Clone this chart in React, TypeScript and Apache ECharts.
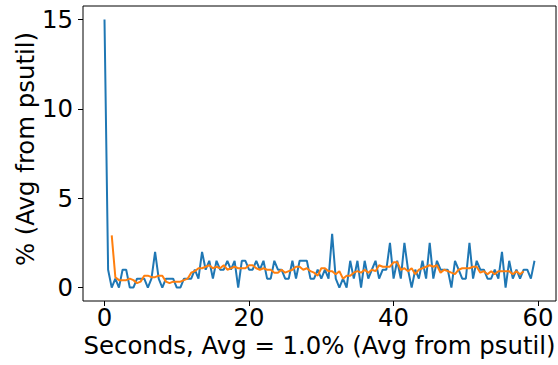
import React, { useEffect, useRef } from "react";
import * as echarts from "echarts";

// Seconds between two psutil samples
const SAMPLE_STEP = 0.5;

// CPU load per sample, in percent
const cpuPercent = [
  15, 1, 0, 0.5, 0, 1, 1, 0, 0, 0.5,
  0.5, 0.5, 0, 0.5, 2, 0.5, 0, 0.5, 0.5, 0.5,
  0, 0, 0.5, 0.5, 0.5, 1, 0.5, 2, 1, 1.5,
  0.5, 1.5, 1, 1, 1.5, 1, 1.5, 0, 1.5, 1.5,
  1, 1, 1.5, 1, 1.5, 0.5, 0.5, 1.5, 1, 1,
  0.5, 0.5, 1.5, 0.5, 1.5, 1.5, 1.5, 0.5, 0.5, 1,
  0.5, 1, 0.5, 3, 0.5, 0, 0.5, 0, 1.5, 0.5,
  1.5, 0, 1.5, 0.5, 1, 1.5, 0.5, 1, 1, 2.5,
  0.5, 1.5, 0.5, 2.5, 1, 0, 1, 0.5, 1.5, 0.5,
  2.5, 0.5, 1.5, 1, 1, 1, 0, 1.5, 1, 0.5,
  0.5, 2.5, 0.5, 1.5, 1, 1, 0.5, 0.5, 1, 0.5,
  2, 0, 1.5, 0.5, 1, 0.5, 1, 1, 0.5, 1.5,
];

// Rolling average of the load, first point at AVG_START seconds
const AVG_START = 1.0;
const rollingAvg = [
  2.917, 0.583, 0.417, 0.417, 0.417, 0.5, 0.417, 0.25, 0.333, 0.667,
  0.667, 0.583, 0.583, 0.667, 0.667, 0.333, 0.25, 0.333, 0.333, 0.333,
  0.417, 0.5, 0.833, 0.917, 1.083, 1.083, 1.167, 1.25, 1.083, 1.167,
  1.083, 1.25, 1.0, 1.083, 1.167, 1.083, 1.083, 1.083, 1.25, 1.25,
  1.083, 1.0, 1.083, 1.0, 1.0, 0.833, 0.833, 1.0, 0.833, 0.917,
  1.0, 1.167, 1.167, 1.0, 1.083, 0.917, 0.833, 0.667, 1.083, 1.083,
  0.917, 0.917, 0.75, 0.917, 0.5, 0.667, 0.667, 0.833, 0.917, 0.833,
  1.0, 0.833, 1.0, 0.917, 1.25, 1.167, 1.167, 1.167, 1.417, 1.417,
  1.0, 1.083, 0.917, 1.083, 0.75, 1.0, 1.083, 1.167, 1.25, 1.167,
  1.25, 0.833, 1.0, 0.917, 0.833, 0.75, 1.0, 1.083, 1.083, 1.083,
  1.167, 1.167, 0.833, 0.917, 0.75, 0.917, 0.75, 0.917, 0.917, 0.917,
  0.917, 0.75, 0.917, 0.75, 0.917,
];

const xTicks = [0, 20, 40, 60];
const yTicks = [0, 5, 10, 15];
const X_LABEL = "Seconds, Avg = 1.0% (Avg from psutil)";
const Y_LABEL = "% (Avg from psutil)";

const FONT = "DejaVu Sans";
const FONT_SIZE = 24.4;
const BLUE = "#1f77b4";
const ORANGE = "#ff7f0e";

export default function App() {
  const ref = useRef<HTMLDivElement>(null);

  useEffect(() => {
    if (!ref.current) return;
    const chart = echarts.init(ref.current, undefined, { renderer: "svg" });

    const tickStyle = { show: true, inside: false, length: 5, lineStyle: { color: "#000", width: 1 } };
    const labelStyle = { fontSize: FONT_SIZE, fontFamily: FONT, color: "#000", lineHeight: 20 };

    chart.setOption({
      animation: false,
      backgroundColor: "#fff",
      grid: {
        left: 83,
        top: 6,
        width: 473,
        height: 295,
        show: true,
        borderColor: "#000",
        borderWidth: 1,
        backgroundColor: "transparent",
      },
      xAxis: {
        type: "value",
        min: -2.975,
        max: 62.475,
        axisLine: { show: false, onZero: false },
        splitLine: { show: false },
        axisTick: { ...tickStyle, customValues: xTicks },
        axisLabel: { ...labelStyle, customValues: xTicks, margin: 6 },
      },
      yAxis: {
        type: "value",
        min: -0.75,
        max: 15.75,
        axisLine: { show: false, onZero: false },
        splitLine: { show: false },
        axisTick: { ...tickStyle, customValues: yTicks },
        axisLabel: { ...labelStyle, customValues: yTicks, margin: 10 },
      },
      graphic: [
        {
          type: "text",
          x: 319.5,
          y: 345,
          style: { text: X_LABEL, ...labelStyle, fill: "#000", align: "center", verticalAlign: "middle" },
        },
        {
          type: "text",
          x: 25,
          y: 149,
          rotation: Math.PI / 2,
          style: { text: Y_LABEL, ...labelStyle, fill: "#000", align: "center", verticalAlign: "middle" },
        },
      ],
      series: [
        {
          type: "line",
          data: cpuPercent.map((v, i) => [i * SAMPLE_STEP, v]),
          showSymbol: false,
          symbol: "none",
          lineStyle: { color: BLUE, width: 2 },
          itemStyle: { color: BLUE },
        },
        {
          type: "line",
          data: rollingAvg.map((v, i) => [AVG_START + i * SAMPLE_STEP, v]),
          showSymbol: false,
          symbol: "none",
          lineStyle: { color: ORANGE, width: 2 },
          itemStyle: { color: ORANGE },
        },
      ],
    });

    return () => chart.dispose();
  }, []);

  return (
    <div
      ref={ref}
      style={{ position: "fixed", left: 0, top: 0, width: 558, height: 365, background: "#fff" }}
    />
  );
}
